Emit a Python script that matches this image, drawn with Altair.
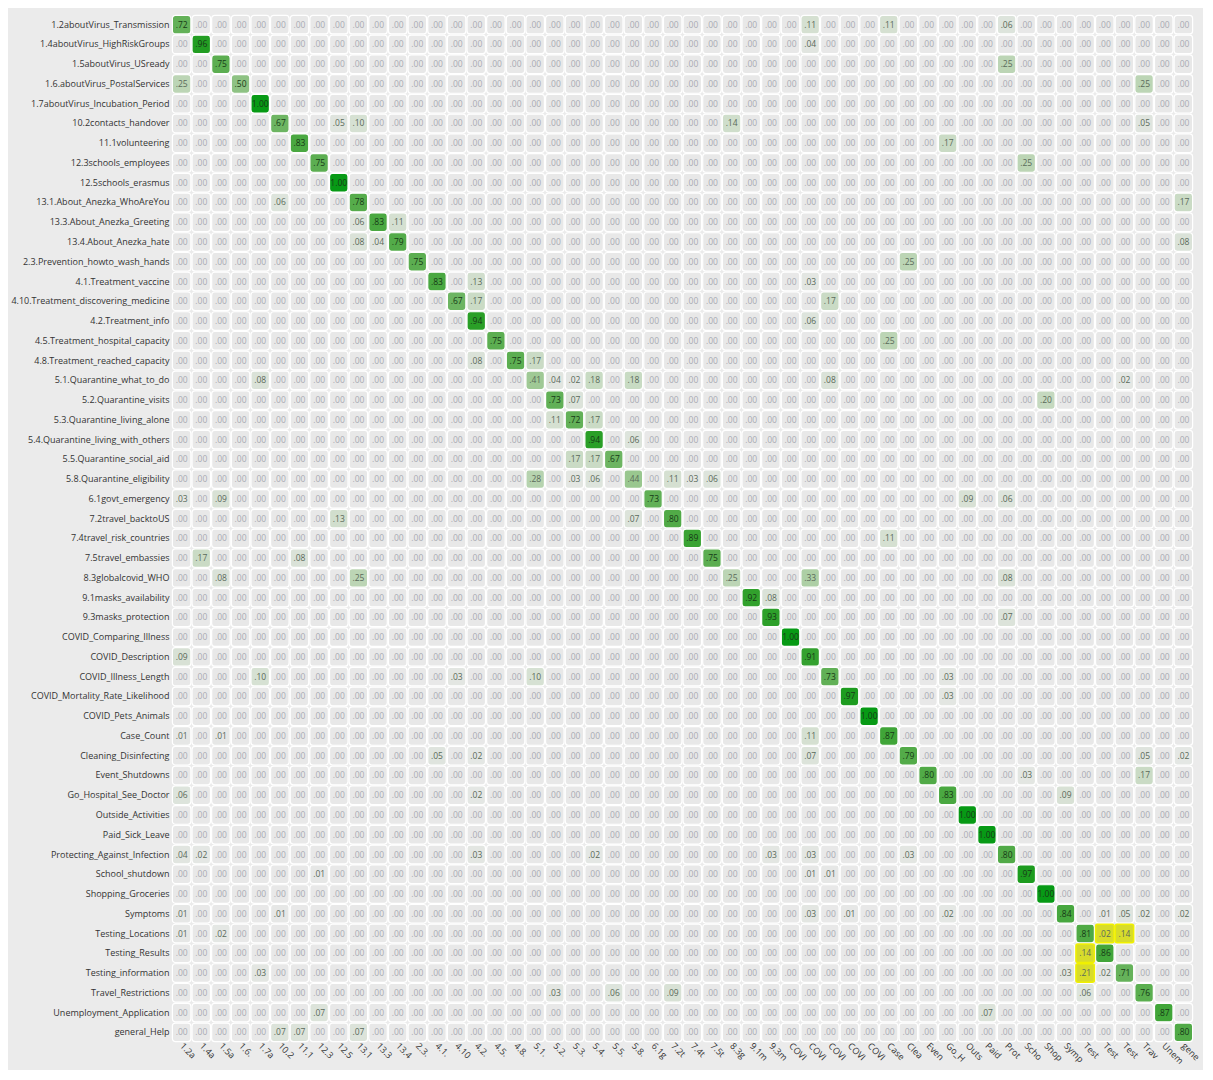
import altair as alt
import pandas as pd

categories = [
    "1.2aboutVirus_Transmission", "1.4aboutVirus_HighRiskGroups", "1.5aboutVirus_USready",
    "1.6.aboutVirus_PostalServices", "1.7aboutVirus_Incubation_Period", "10.2contacts_handover",
    "11.1volunteering", "12.3schools_employees", "12.5schools_erasmus",
    "13.1.About_Anezka_WhoAreYou", "13.3.About_Anezka_Greeting", "13.4.About_Anezka_hate",
    "2.3.Prevention_howto_wash_hands", "4.1.Treatment_vaccine", "4.10.Treatment_discovering_medicine",
    "4.2.Treatment_info", "4.5.Treatment_hospital_capacity", "4.8.Treatment_reached_capacity",
    "5.1.Quarantine_what_to_do", "5.2.Quarantine_visits", "5.3.Quarantine_living_alone",
    "5.4.Quarantine_living_with_others", "5.5.Quarantine_social_aid", "5.8.Quarantine_eligibility",
    "6.1govt_emergency", "7.2travel_backtoUS", "7.4travel_risk_countries", "7.5travel_embassies",
    "8.3globalcovid_WHO", "9.1masks_availability", "9.3masks_protection",
    "COVID_Comparing_Illness", "COVID_Description", "COVID_Illness_Length",
    "COVID_Mortality_Rate_Likelihood", "COVID_Pets_Animals", "Case_Count", "Cleaning_Disinfecting",
    "Event_Shutdowns", "Go_Hospital_See_Doctor", "Outside_Activities", "Paid_Sick_Leave",
    "Protecting_Against_Infection", "School_shutdown", "Shopping_Groceries", "Symptoms",
    "Testing_Locations", "Testing_Results", "Testing_information", "Travel_Restrictions",
    "Unemployment_Application", "general_Help",
]

diagonal = [
    .72, .96, .75, .50, 1.00, .67, .83, .75, 1.00, .78, .83, .79, .75, .83, .67, .94, .75, .75,
    .41, .73, .72, .94, .67, .44, .73, .80, .89, .75, .25, .92, .93, 1.00, .91, .73, .97, 1.00,
    .87, .79, .80, .83, 1.00, 1.00, .80, .97, 1.00, .84, .81, .86, .71, .76, .87, .80,
]

# (true row index, predicted column index, value)
off_diagonal = [
    (0, 32, .11), (0, 36, .11), (0, 42, .06),
    (1, 32, .04),
    (2, 42, .25),
    (3, 0, .25), (3, 49, .25),
    (5, 8, .05), (5, 9, .10), (5, 28, .14), (5, 49, .05),
    (6, 39, .17),
    (7, 43, .25),
    (9, 5, .06), (9, 51, .17),
    (10, 9, .06), (10, 11, .11),
    (11, 9, .08), (11, 10, .04), (11, 51, .08),
    (12, 37, .25),
    (13, 15, .13), (13, 32, .03),
    (14, 15, .17), (14, 33, .17),
    (15, 32, .06),
    (16, 36, .25),
    (17, 15, .08), (17, 18, .17),
    (18, 4, .08), (18, 19, .04), (18, 20, .02), (18, 21, .18), (18, 23, .18), (18, 33, .08), (18, 48, .02),
    (19, 20, .07), (19, 44, .20),
    (20, 19, .11), (20, 21, .17),
    (21, 23, .06),
    (22, 20, .17), (22, 21, .17),
    (23, 18, .28), (23, 20, .03), (23, 21, .06), (23, 25, .11), (23, 26, .03), (23, 27, .06),
    (24, 0, .03), (24, 2, .09), (24, 40, .09), (24, 42, .06),
    (25, 8, .13), (25, 23, .07),
    (26, 36, .11),
    (27, 1, .17), (27, 6, .08),
    (28, 2, .08), (28, 9, .25), (28, 32, .33), (28, 42, .08),
    (29, 30, .08),
    (30, 42, .07),
    (32, 0, .09),
    (33, 4, .10), (33, 14, .03), (33, 18, .10), (33, 39, .03),
    (34, 39, .03),
    (36, 0, .01), (36, 2, .01), (36, 32, .11),
    (37, 13, .05), (37, 15, .02), (37, 32, .07), (37, 49, .05), (37, 51, .02),
    (38, 43, .03), (38, 49, .17),
    (39, 0, .06), (39, 15, .02), (39, 45, .09),
    (42, 0, .04), (42, 1, .02), (42, 15, .03), (42, 21, .02), (42, 30, .03), (42, 32, .03), (42, 37, .03),
    (43, 7, .01), (43, 32, .01), (43, 33, .01),
    (45, 0, .01), (45, 5, .01), (45, 32, .03), (45, 34, .01), (45, 39, .02), (45, 47, .01),
    (45, 48, .05), (45, 49, .02), (45, 51, .02),
    (46, 0, .01), (46, 2, .02), (46, 47, .02), (46, 48, .14),
    (47, 46, .14),
    (48, 4, .03), (48, 45, .03), (48, 46, .21), (48, 47, .02),
    (49, 19, .03), (49, 22, .06), (49, 25, .09), (49, 46, .06),
    (50, 7, .07), (50, 41, .07),
    (51, 5, .07), (51, 6, .07), (51, 9, .07),
]

highlighted = [(46, 47), (46, 48), (47, 46), (48, 46)]

n = len(categories)
matrix = [[0.0] * n for _ in range(n)]
for i, v in enumerate(diagonal):
    matrix[i][i] = v
for r, c, v in off_diagonal:
    matrix[r][c] = v

rows = []
for r in range(n):
    for c in range(n):
        rows.append({
            "actual": categories[r],
            "predicted": categories[c],
            "v": matrix[r][c],
            "hl": 1 if (r, c) in highlighted else 0,
        })
df = pd.DataFrame(rows)

font = "Open Sans"

x_enc = alt.X(
    "predicted:N", sort=categories, title=None,
    scale=alt.Scale(paddingInner=0.06, paddingOuter=0.02),
    axis=alt.Axis(
        orient="bottom", labelAngle=45, labelAlign="left", labelBaseline="middle",
        labelExpr="substring(datum.label, 0, 4)", ticks=False, domain=False,
        labelFontSize=9, labelColor="#333333", labelFont=font, labelPadding=2,
    ),
)
y_enc = alt.Y(
    "actual:N", sort=categories, title=None,
    scale=alt.Scale(paddingInner=0.06, paddingOuter=0.02),
    axis=alt.Axis(
        ticks=False, domain=False, labelFontSize=9, labelColor="#333333",
        labelFont=font, labelPadding=3, labelLimit=400,
    ),
)

base = alt.Chart(df).encode(x=x_enc, y=y_enc)

cells = base.mark_rect(cornerRadius=3, stroke="white", strokeWidth=1.2).encode(
    color=alt.Color(
        "v:Q", legend=None,
        scale=alt.Scale(domain=[0, 1], range=["#e8e8e8", "#079a15"]),
    )
)

hl_cells = base.transform_filter("datum.hl == 1").mark_rect(
    cornerRadius=2, fill="#d8dc2a", stroke="#f0f000", strokeWidth=1.5
)

labels = base.transform_calculate(
    lbl="datum.v >= 1 ? '1.00' : substring(format(datum.v, '.2f'), 1)",
    tc="datum.v >= 0.5 ? '#173a17' : (datum.v > 0.004 ? '#5a6a5a' : '#a9abb3')",
).mark_text(fontSize=8.5, font=font).encode(
    text="lbl:N",
    color=alt.Color("tc:N", scale=None, legend=None),
)

chart = alt.layer(cells, hl_cells, labels).resolve_scale(color="independent").properties(
    width=1195,
    height=1062,
    autosize=alt.AutoSizeParams(type="fit", contains="padding"),
    background="#ebebeb",
    padding={"left": 2, "top": 6, "right": 4, "bottom": 4},
).configure_view(stroke=None)

chart.save("out.html", embed_options={"renderer": "svg", "actions": False})
